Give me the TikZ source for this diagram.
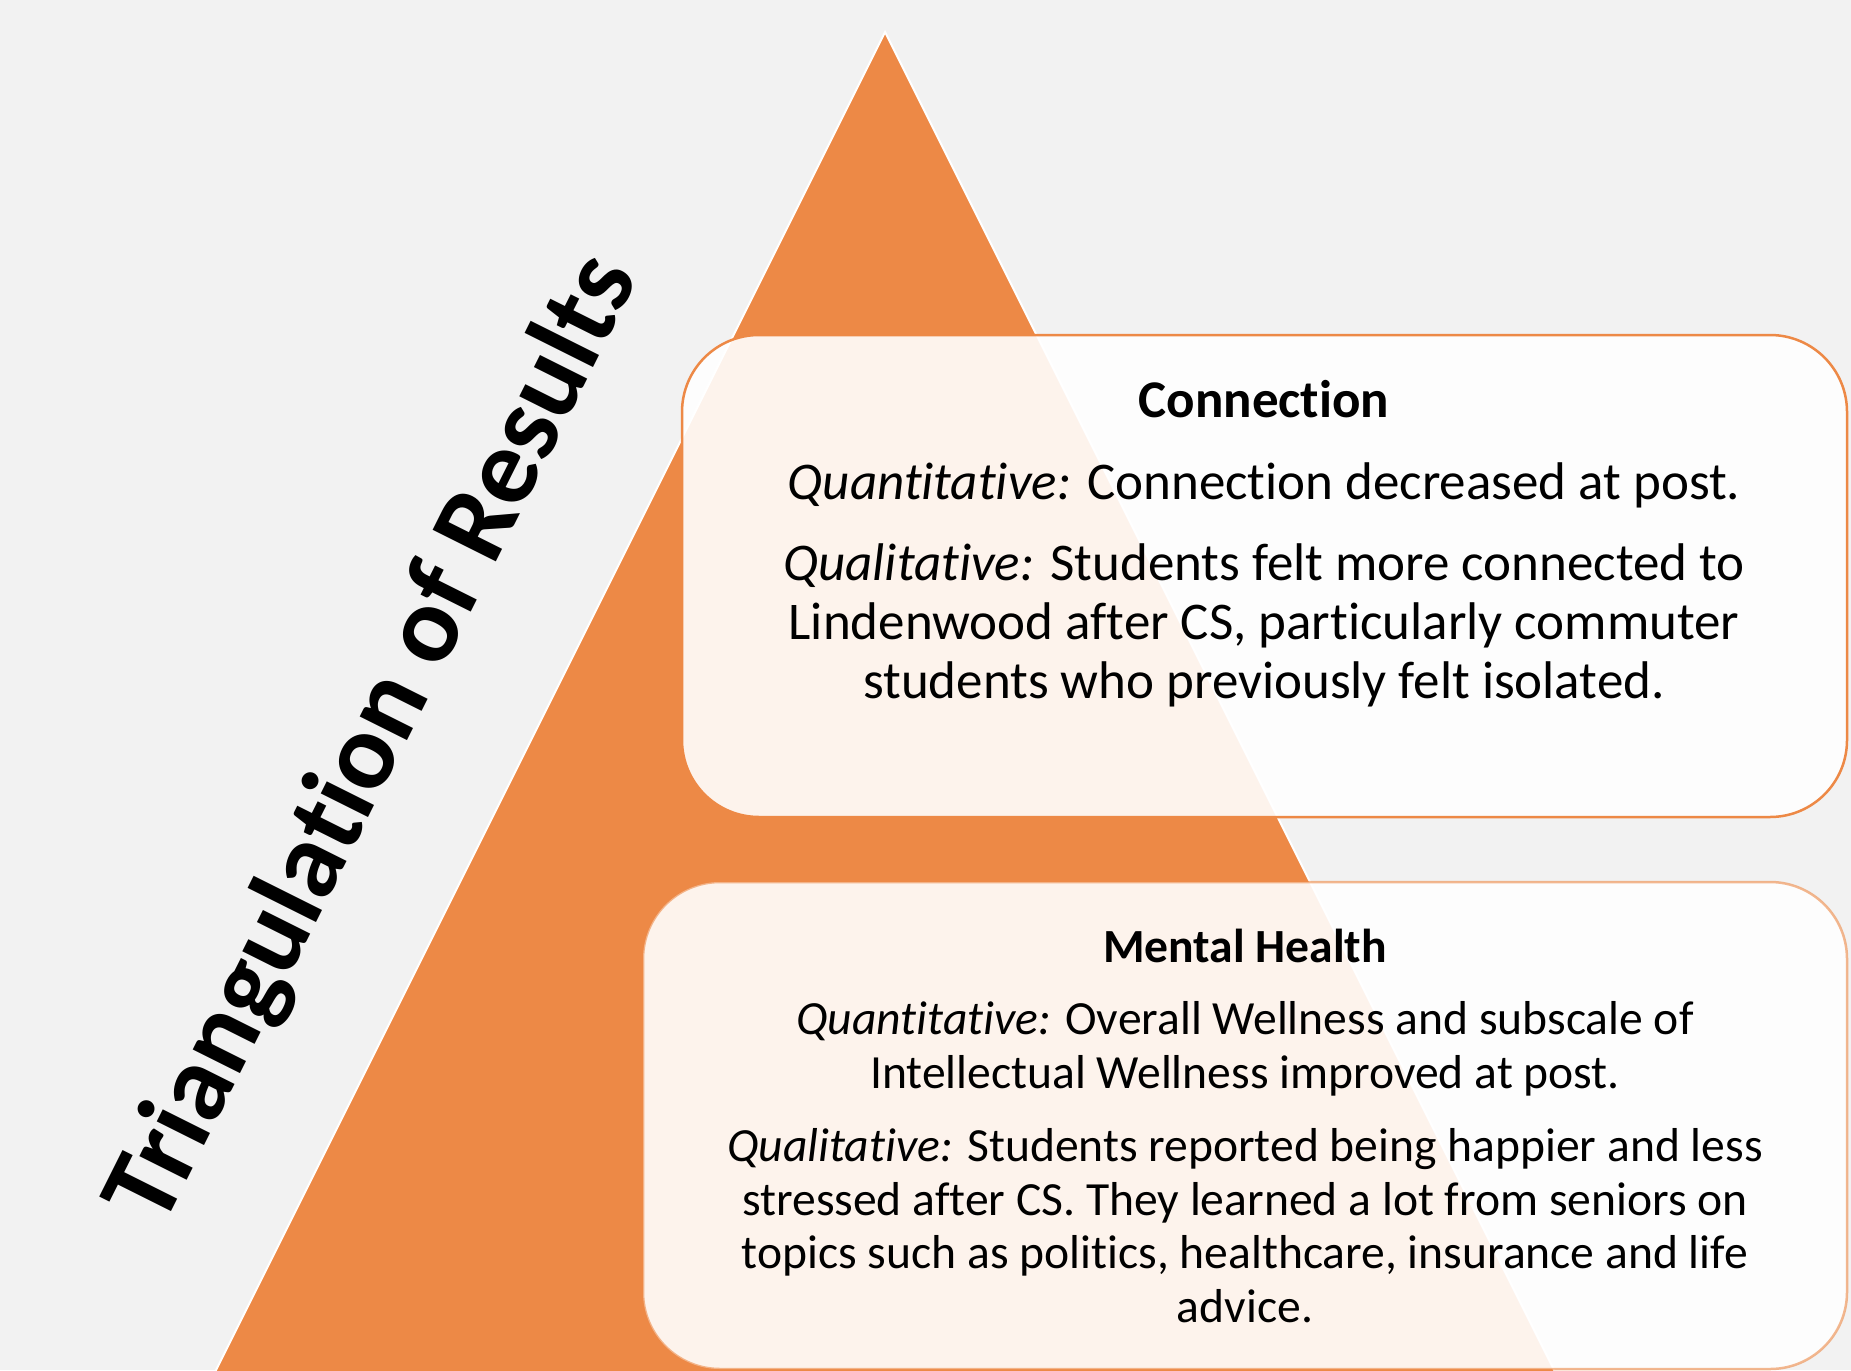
\documentclass[tikz,border=0pt]{standalone}
\usepackage{fontspec}
\setmainfont{Carlito}[RawFeature={-liga;-clig;-dlig;-calt;-rlig}]
\definecolor{pagebg}{RGB}{242,242,242}
\definecolor{accent}{RGB}{237,137,70}
\begin{document}
\begin{tikzpicture}[x=0.5pt,y=-0.5pt,
  panel/.style={fill=white, fill opacity=0.9, rounded corners=38.5pt, line width=1.25pt},
  headA/.style={font=\fontsize{26.5}{29.5}\selectfont\bfseries, anchor=base, inner sep=0pt},
  bodyA/.style={font=\fontsize{26.5}{29.5}\selectfont, align=center, anchor=base, inner sep=0pt},
  headB/.style={font=\fontsize{23.8}{26.7}\selectfont\bfseries, anchor=base, inner sep=0pt},
  bodyB/.style={font=\fontsize{23.8}{26.7}\selectfont, align=center, anchor=base, inner sep=0pt}]
  % canvas
  \fill[pagebg] (0,0) rectangle (1851,1370);
  \useasboundingbox (0,0) rectangle (1851,1370);
  \clip (0,0) rectangle (1851,1370);
  % pyramid
  \fill[accent, draw=white, line width=1pt] (885,32) -- (150,1502) -- (1620,1502) -- cycle;
  % panels
  \draw[panel, draw=accent] (682,335) rectangle (1847,817);
  \draw[panel, draw=accent, draw opacity=0.6] (643,882) rectangle (1847,1369);
  % title along the left side
  \node[font=\fontsize{54.5}{60}\selectfont\bfseries, rotate=63.43, anchor=base, inner sep=0pt]
    (title) at (401,753) {Triangulation of Results};
  % connection panel text (multi-line nodes sit on their last line)
  \node[headA] (conhead) at (1264,417) {Connection};
  \node[bodyA] (conquant) at (1264,499) {\textit{Quantitative:} Connection decreased at post.};
  \node[bodyA] (conqual) at (1264,698) {\textit{Qualitative:} Students felt more connected to\\
    Lindenwood after CS, particularly commuter\\ students who previously felt isolated.};
  % mental health panel text
  \node[headB] (mhhead) at (1245,962) {Mental Health};
  \node[bodyB] (mhquant) at (1245,1088) {\textit{Quantitative:} Overall Wellness and subscale of\\
    Intellectual Wellness improved at post.};
  \node[bodyB] (mhqual) at (1245,1322) {\textit{Qualitative:} Students reported being happier and less\\
    stressed after CS. They learned a lot from seniors on\\
    topics such as politics, healthcare, insurance and life\\ advice.};
\end{tikzpicture}
\end{document}
